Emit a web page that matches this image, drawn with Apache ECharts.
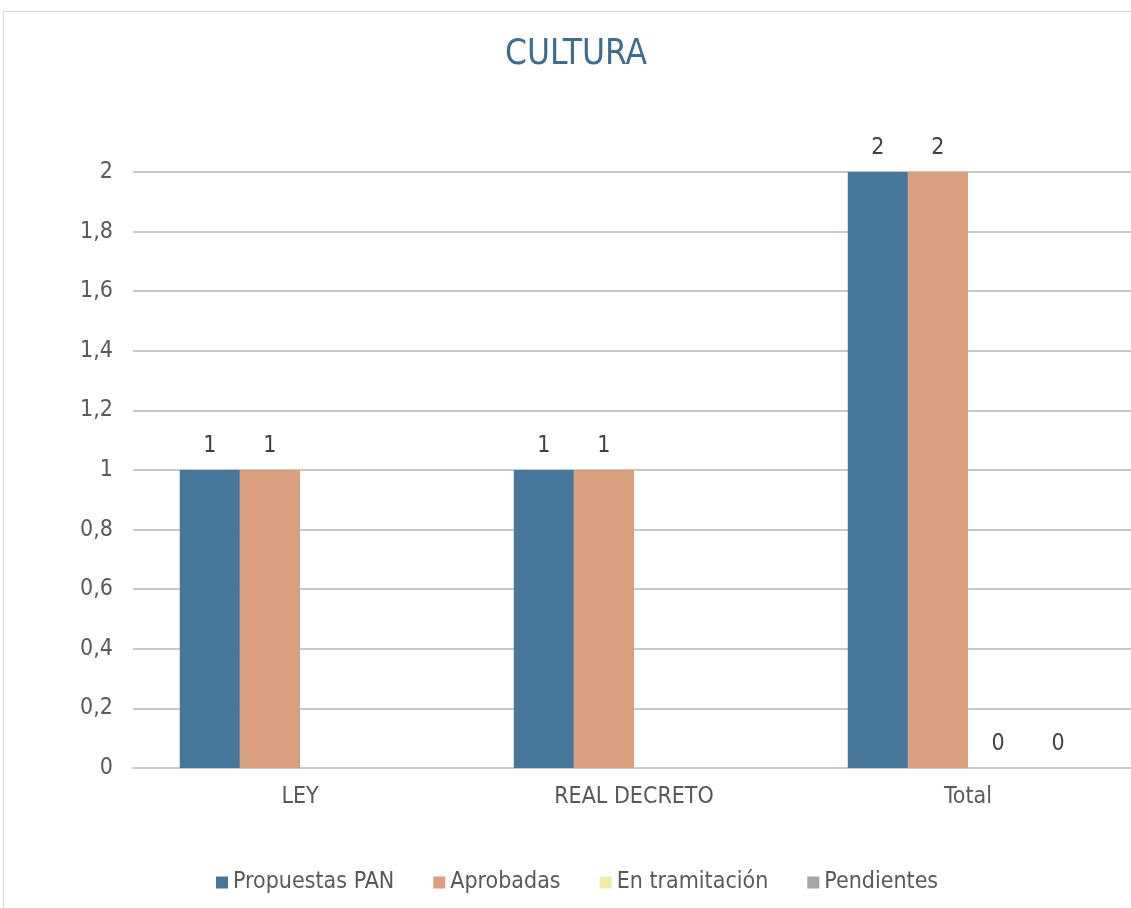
<!DOCTYPE html>
<html>
<head>
<meta charset="utf-8">
<script src="https://cdn.jsdelivr.net/npm/echarts@6/dist/echarts.min.js"></script>
<style>
  html, body { margin: 0; padding: 0; background: #fff; overflow: hidden; width: 1131px; height: 908px; }
  #frame { position: absolute; left: 3px; top: 11px; width: 1140px; height: 905px; border: 1px solid #d9d9d9; }
  #chart { position: absolute; left: 0; top: 0; width: 1135px; height: 908px; }
</style>
</head>
<body>
<div id="frame"></div>
<div id="chart"></div>
<script>
  // datos
  const categorias = ['LEY', 'REAL DECRETO', 'Total'];
  const propuestas = [1, 1, 2];
  const aprobadas = [1, 1, 2];
  const enTramitacion = ['-', '-', 0];
  const pendientes = ['-', '-', 0];

  const fuente = 'DejaVu Sans Condensed';
  let chart = echarts.init(document.getElementById('chart'), null, {renderer: 'canvas'});

  function serie(name, data, color) {
    return {
      name: name,
      type: 'bar',
      data: data,
      barGap: '0%',
      barCategoryGap: '28%',
      itemStyle: {color: color},
      label: {
        show: true,
        position: 'top',
        distance: 12,
        color: '#404040',
        fontSize: 23,
        fontFamily: fuente
      }
    }
  }

  let option = {
    title: {
      text: 'CULTURA',
      left: 500,
      top: 32,
      textStyle: {color: '#3b6e8f', fontSize: 35, fontWeight: 'normal', fontFamily: fuente}
    },
    legend: {
      bottom: 9,
      left: 211,
      icon: 'rect',
      itemWidth: 12,
      itemHeight: 12,
      itemGap: 39,
      textStyle: {color: '#595959', fontSize: 23, fontFamily: fuente},
      data: ['Propuestas PAN', 'Aprobadas', 'En tramitación', 'Pendientes']
    },
    grid: {
      left: 133,
      right: 0,
      top: 172,
      bottom: 140
    },
    xAxis: {
      type: 'category',
      data: categorias,
      axisTick: {show: false},
      axisLine: {lineStyle: {color: '#c8c8c8', width: 2}},
      axisLabel: {color: '#595959', fontSize: 23, fontFamily: fuente, margin: 18}
    },
    yAxis: {
      type: 'value',
      min: 0,
      max: 2,
      interval: 0.2,
      axisLine: {show: false},
      axisTick: {show: false},
      splitLine: {lineStyle: {color: '#c8c8c8', width: 2}},
      axisLabel: {
        color: '#595959', fontSize: 23, fontFamily: fuente, margin: 20,
        formatter: v => String(+v.toFixed(1)).replace('.', ',')
      }
    },
    series: [
      serie('Propuestas PAN', propuestas, '#46779a'),
      serie('Aprobadas', aprobadas, '#d99f7f'),
      serie('En tramitación', enTramitacion, '#f1eca6'),
      serie('Pendientes', pendientes, '#a5a5a5')
    ]
  };
  chart.setOption(option);
</script>
</body>
</html>
